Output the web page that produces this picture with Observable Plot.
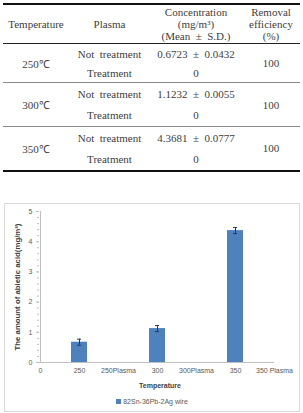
<!DOCTYPE html>
<html><head><meta charset="utf-8">
<script src="https://cdn.jsdelivr.net/npm/d3@7"></script>
<script src="https://cdn.jsdelivr.net/npm/@observablehq/plot@0.6"></script>
<style>
body{margin:0;background:#fff;width:303px;height:413px;overflow:hidden;position:relative;}
#tbl{position:absolute;left:3px;top:3px;width:297px;border-collapse:collapse;font-family:"Liberation Serif",serif;font-size:11px;color:#404040;table-layout:fixed;}
#tbl td,#tbl th{padding:0;text-align:center;vertical-align:middle;font-weight:normal;white-space:nowrap;}
#tbl thead tr{border-top:2.5px solid #111;border-bottom:1.5px solid #222;}
#tbl thead th{height:38px;line-height:12px;}
#tbl tbody.g{border-bottom:1px solid #888;}
#tbl tbody.last{border-bottom:2.5px solid #111;}
#chartbox{position:absolute;left:4px;top:203px;width:296px;height:209px;border:1px solid #d9d9d9;box-sizing:border-box;background:#fff;}
#legend{position:absolute;left:0;right:0;top:194px;display:flex;justify-content:center;align-items:center;font-family:"Liberation Sans",sans-serif;font-size:7px;color:#595959;}
#legend span.sw{display:inline-block;width:5px;height:5px;background:#4f81bd;margin-right:2px;}
</style></head>
<body>
<table id="tbl"></table>
<div id="chartbox"><div id="plot"></div><div id="legend"></div></div>
<script>
// Table data
const headers = ["Temperature", "Plasma", "Concentration<br>(mg/m³)<br>(Mean &nbsp;±&nbsp; S.D.)", "Removal<br>efficiency<br>(%)"];
const temps = ["250℃", "300℃", "350℃"];
const plasmaLabels = ["Not &nbsp;treatment", "Treatment"];
const concMean = ["0.6723", "1.1232", "4.3681"];
const concSD = ["0.0432", "0.0055", "0.0777"];
const treatedConc = ["0", "0", "0"];
const removal = ["100", "100", "100"];

// Chart data
const cats = ["0", "250", "250Plasma", "300", "300Plasma", "350", "350 Plasma"];
const barCats = ["250", "300", "350"];
const barValues = [0.6723, 1.1232, 4.3681];
const barErrors = [0.1, 0.1, 0.1];
const yTicks = [0, 1, 2, 3, 4, 5];
const seriesName = "82Sn-36Pb-2Ag wire";
const xTitle = "Temperature";
const yTitle = "The amount of abietic acid(mg/m³)";

// Build table
const colW = [66, 81, 92, 58];
let html = "<colgroup>" + colW.map(w => `<col style="width:${w}px">`).join("") + "</colgroup>";
html += "<thead><tr>" + headers.map(h => `<th>${h}</th>`).join("") + "</tr></thead>";
const rowH = [[19.5, 19.5], [22, 22], [22, 22]];
temps.forEach((t, i) => {
  const cls = i === temps.length - 1 ? "last" : "g";
  html += `<tbody class="${cls}">`;
  html += `<tr style="height:${rowH[i][0]}px"><td rowspan="2">${t}</td><td>${plasmaLabels[0]}</td><td>${concMean[i]} &nbsp;±&nbsp; ${concSD[i]}</td><td rowspan="2">${removal[i]}</td></tr>`;
  html += `<tr style="height:${rowH[i][1]}px"><td>${plasmaLabels[1]}</td><td>${treatedConc[i]}</td></tr>`;
  html += "</tbody>";
});
document.getElementById("tbl").innerHTML = html;

// Chart
const bars = barCats.map((c, i) => ({cat: c, value: barValues[i], err: barErrors[i]}));
const minor = d3.range(0, 5.0001, 0.2);
const x0 = 34, x1 = 269;
const step = (x1 - x0) / (cats.length - 1);
const chart = Plot.plot({
  width: 294, height: 190,
  marginLeft: x0, marginRight: 294 - x1, marginTop: 7, marginBottom: 32,
  style: {fontFamily: "Liberation Sans, sans-serif", fontSize: "7px", color: "#595959", background: "white", overflow: "visible"},
  x: {type: "band", domain: cats, range: [x0 - step / 2, x1 + step / 2], paddingInner: 0.59, paddingOuter: 0.295},
  y: {domain: [0, 5]},
  marks: [
    Plot.axisY({ticks: minor, tickSize: 2, tickFormat: () => "", stroke: "#bfbfbf", label: null}),
    Plot.axisY({ticks: yTicks, tickSize: 3, tickPadding: 4, tickFormat: d3.format("d"), stroke: "#bfbfbf", label: null, fill: "#595959"}),
    Plot.axisX({tickSize: 0, tickPadding: 6, label: null, fill: "#595959"}),
    Plot.ruleX([cats[0]], {y1: 0, y2: 5, stroke: "#bfbfbf"}),
    Plot.ruleY([0], {stroke: "#bfbfbf"}),
    Plot.barY(bars, {x: "cat", y: "value", fill: "#4f81bd"}),
    Plot.ruleX(bars, {x: "cat", y1: d => d.value - d.err, y2: d => d.value + d.err, stroke: "#1f3864", strokeWidth: 1}),
    Plot.tickY(bars, {x: "cat", y: d => d.value + d.err, stroke: "#1f3864", insetLeft: 6, insetRight: 6}),
    Plot.tickY(bars, {x: "cat", y: d => d.value - d.err, stroke: "#1f3864", insetLeft: 6, insetRight: 6}),
    Plot.text([xTitle], {text: d => d, frameAnchor: "bottom", dy: 23, lineAnchor: "middle", fontWeight: "bold", fill: "#404040", dx: 3}),
    Plot.text([yTitle], {text: d => d, frameAnchor: "left", textAnchor: "middle", lineAnchor: "middle", dx: -22, rotate: -90, fontWeight: "bold", fontSize: 7.8, fill: "#404040"})
  ]
});
document.getElementById("plot").appendChild(chart);
document.getElementById("legend").innerHTML = `<span class="sw"></span><span>${seriesName}</span>`;
</script>
</body></html>
